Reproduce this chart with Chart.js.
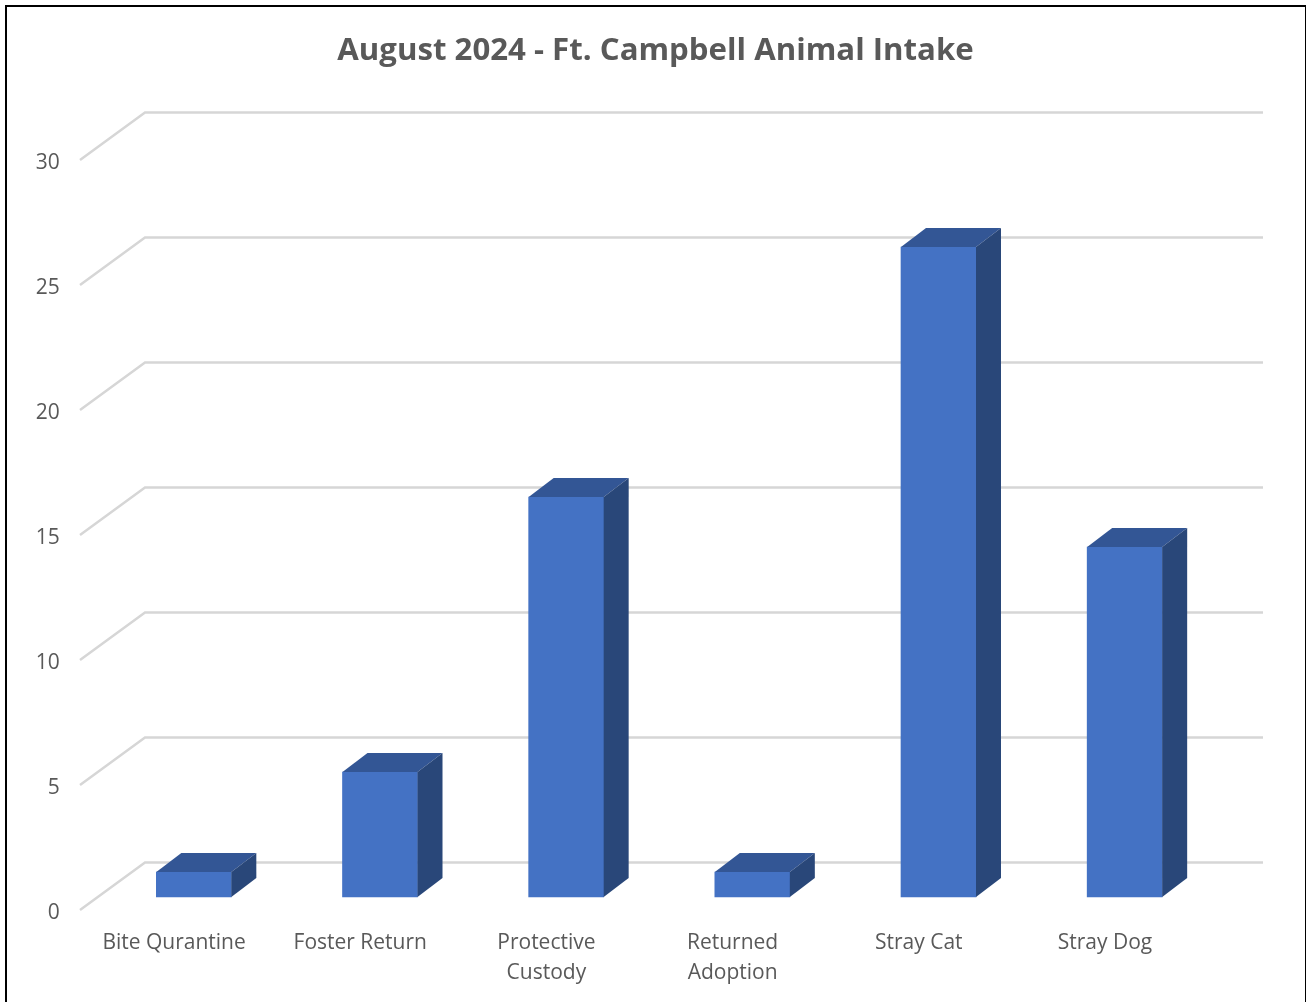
<!DOCTYPE html>
<html>
<head>
<meta charset="utf-8">
<title>August 2024 - Ft. Campbell Animal Intake</title>
<script src="https://cdn.jsdelivr.net/npm/chart.js"></script>
<style>
    html, body { margin: 0; padding: 0; background: #fff; overflow: hidden; }
    #wrap { position: relative; width: 1306px; height: 1002px; }
    #frame { position: absolute; left: 5px; top: 5px; right: 0; bottom: -4px; border: solid #000; border-width: 2px 1px 0 2px; box-sizing: border-box; }
    canvas { position: absolute; left: 0; top: 0; }
</style>
</head>
<body>
<div id="wrap">
    <div id="frame"></div>
    <canvas id="intakeChart" width="1306" height="1002"></canvas>
</div>
<script>
const chartTitle = 'August 2024 - Ft. Campbell Animal Intake';
const categories = ['Bite Qurantine', 'Foster Return', ['Protective', 'Custody'], ['Returned', 'Adoption'], 'Stray Cat', 'Stray Dog'];
const intake = [1, 5, 16, 1, 26, 14];
const yTicks = [0, 5, 10, 15, 20, 25, 30];

// Fake 3D look, Excel style: back wall, side wall and bar depth
const depth3d = {
    id: 'depth3d',
    beforeDatasetsDraw(chart) {
        const { ctx, scales: { y }, chartArea } = chart;
        ctx.save();
        ctx.strokeStyle = '#d6d6d6';
        ctx.lineWidth = 2.5;
        ctx.lineJoin = 'miter';
        yTicks.forEach(v => {
            const py = y.getPixelForValue(v);
            ctx.beginPath();
            ctx.moveTo(chartArea.left - 20.75, py + 13);
            ctx.lineTo(chartArea.left + 44.25, py - 34.5);
            ctx.lineTo(chartArea.right + 45.25, py - 34.5);
            ctx.stroke();
        });
        ctx.restore();
    },
    afterDatasetsDraw(chart) {
        const { ctx } = chart;
        const dx = 25, dy = 19;
        ctx.save();
        chart.getDatasetMeta(0).data.forEach(bar => {
            const l = bar.x - bar.width / 2, r = bar.x + bar.width / 2;
            // top
            ctx.fillStyle = '#335695';
            ctx.beginPath();
            ctx.moveTo(l, bar.y);
            ctx.lineTo(l + dx, bar.y - dy);
            ctx.lineTo(r + dx, bar.y - dy);
            ctx.lineTo(r, bar.y);
            ctx.closePath();
            ctx.fill();
            // side
            ctx.fillStyle = '#294779';
            ctx.beginPath();
            ctx.moveTo(r, bar.y);
            ctx.lineTo(r + dx, bar.y - dy);
            ctx.lineTo(r + dx, bar.base - dy);
            ctx.lineTo(r, bar.base);
            ctx.closePath();
            ctx.fill();
        });
        ctx.restore();
    }
};

new Chart(document.getElementById('intakeChart'), {
    type: 'bar',
    data: {
        labels: categories,
        datasets: [{
            label: 'Intake',
            data: intake,
            backgroundColor: '#4472c4',
            borderWidth: 0,
            barThickness: 75
        }]
    },
    plugins: [depth3d],
    options: {
        responsive: false,
        animation: false,
        layout: { padding: { left: 5, right: 0, top: 0, bottom: 0 } },
        plugins: {
            legend: { display: false },
            tooltip: { enabled: false },
            title: {
                display: true,
                text: chartTitle,
                color: '#595959',
                font: { family: "'Open Sans', sans-serif", size: 31.2, weight: 'bold', lineHeight: 1.2 },
                padding: { top: 32.3, bottom: 42.3 }
            }
        },
        scales: {
            x: {
                grid: { display: false },
                border: { display: false },
                afterFit(scale) { scale.height = 92; },
                ticks: {
                    color: '#595959',
                    font: { family: "'Open Sans', sans-serif", size: 21, lineHeight: 1.43 },
                    padding: 10,
                    labelOffset: -19.75,
                    maxRotation: 0,
                    autoSkip: false
                }
            },
            y: {
                min: -0.52,
                max: 31.4,
                grid: { display: false },
                border: { display: false },
                afterBuildTicks(scale) { scale.ticks = yTicks.map(value => ({ value })); },
                afterFit(scale) { scale.width = 95.75; },
                ticks: {
                    color: '#595959',
                    font: { family: "'Open Sans', sans-serif", size: 21 },
                    padding: 33,
                    labelOffset: 16
                }
            },
            right: {
                position: 'right',
                grid: { display: false },
                border: { display: false },
                ticks: { display: false },
                afterFit(scale) { scale.width = 88.25; }
            }
        }
    }
});
</script>
</body>
</html>
